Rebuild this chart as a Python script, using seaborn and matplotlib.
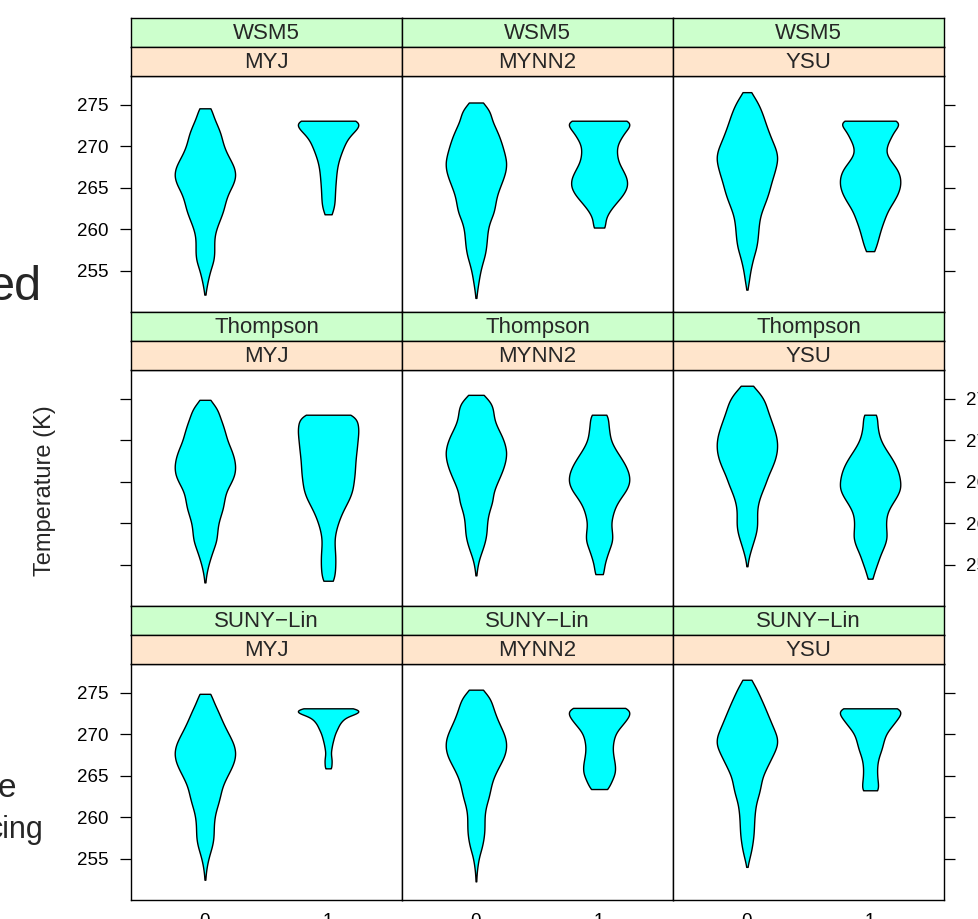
import numpy as np
import pandas as pd
import matplotlib
matplotlib.use("Agg")
import matplotlib.pyplot as plt
import seaborn as sns

MICROPHYSICS = ["WSM5", "Thompson", "SUNY\u2212Lin"]
PBL = ["MYJ", "MYNN2", "YSU"]
GROUPS = ["0", "1"]
YTICKS = [255, 260, 265, 270, 275]

# each violin: (warmest K, coldest K) and counts at evenly spaced levels from warm to cold
wsm5_myj_range = [(274.6, 252.1), (273.1, 261.8)]
wsm5_myj_0 = [18, 24, 35, 45, 50, 58, 71, 84, 88, 80, 66, 58, 53, 44, 34, 27, 26, 27, 25, 16, 10, 5, 1]
wsm5_myj_1 = [110, 85, 58, 47, 37, 29, 25, 23, 21, 20, 19, 11]

wsm5_mynn2_range = [(275.3, 251.7), (273.1, 260.2)]
wsm5_mynn2_0 = [20, 42, 45, 57, 68, 76, 83, 89, 87, 79, 69, 60, 56, 52, 40, 34, 32, 30, 26, 18, 12, 8, 4, 1]
wsm5_mynn2_1 = [111, 82, 66, 52, 52, 56, 70, 83, 85, 72, 50, 30, 17, 20]

wsm5_ysu_range = [(276.55, 252.7), (273.1, 257.35)]
wsm5_ysu_0 = [12, 29, 41, 50, 58, 67, 77, 88, 93, 88, 81, 73, 67, 59, 49, 40, 36, 34, 32, 28, 20, 14, 9, 6, 1]
wsm5_ysu_1 = [105, 73, 62, 49, 45, 62, 82, 90, 90, 82, 68, 52, 43, 34, 27, 21, 13]

thompson_myj_range = [(274.9, 252.85), (273.1, 253.05)]
thompson_myj_0 = [14, 35, 42, 51, 58, 64, 75, 83, 87, 85, 74, 60, 55, 52, 44, 37, 35, 33, 24, 16, 9, 4, 1]
thompson_myj_1 = [80, 86, 88, 85, 83, 80, 78, 77, 74, 71, 63, 50, 38, 29, 22, 18, 19, 21, 21, 20, 16]

thompson_mynn2_range = [(275.5, 253.7), (273.1, 253.85)]
thompson_mynn2_0 = [22, 47, 51, 53, 63, 76, 85, 90, 87, 80, 70, 59, 50, 49, 40, 34, 32, 31, 26, 18, 9, 4, 1]
thompson_mynn2_1 = [26, 26, 29, 32, 44, 60, 75, 85, 88, 78, 59, 45, 38, 33, 37, 39, 29, 21, 14, 13]

thompson_ysu_range = [(276.6, 254.8), (273.1, 253.3)]
thompson_ysu_0 = [17, 42, 56, 63, 72, 81, 89, 93, 92, 86, 76, 64, 56, 45, 36, 31, 31, 32, 28, 20, 12, 5, 1]
thompson_ysu_1 = [22, 21, 24, 30, 43, 60, 75, 85, 90, 92, 80, 63, 50, 47, 48, 51, 43, 31, 23, 14, 7]

sunylin_myj_range = [(274.9, 252.45), (273.15, 265.9)]
sunylin_myj_0 = [17, 25, 37, 47, 58, 71, 83, 88, 84, 73, 60, 49, 44, 38, 30, 26, 25, 25, 21, 13, 7, 3, 1]
sunylin_myj_1 = [91, 100, 55, 42, 33, 28, 22, 18, 15, 12, 10, 8, 9, 11, 10, 10]

sunylin_mynn2_range = [(275.4, 252.25), (273.2, 263.4)]
sunylin_mynn2_0 = [20, 42, 49, 57, 67, 79, 88, 89, 83, 70, 57, 47, 42, 37, 29, 25, 25, 25, 22, 17, 9, 5, 2, 1]
sunylin_mynn2_1 = [96, 85, 67, 46, 40, 37, 40, 45, 46, 35, 26]

sunylin_ysu_range = [(276.6, 254.0), (273.15, 263.25)]
sunylin_ysu_0 = [13, 27, 38, 49, 59, 69, 79, 90, 91, 80, 68, 56, 45, 41, 36, 28, 24, 22, 21, 20, 17, 13, 7, 1]
sunylin_ysu_1 = [105, 84, 67, 46, 39, 34, 24, 20, 20, 22, 27]

panels = [
    [(wsm5_myj_range, wsm5_myj_0, wsm5_myj_1),
     (wsm5_mynn2_range, wsm5_mynn2_0, wsm5_mynn2_1),
     (wsm5_ysu_range, wsm5_ysu_0, wsm5_ysu_1)],
    [(thompson_myj_range, thompson_myj_0, thompson_myj_1),
     (thompson_mynn2_range, thompson_mynn2_0, thompson_mynn2_1),
     (thompson_ysu_range, thompson_ysu_0, thompson_ysu_1)],
    [(sunylin_myj_range, sunylin_myj_0, sunylin_myj_1),
     (sunylin_mynn2_range, sunylin_mynn2_0, sunylin_mynn2_1),
     (sunylin_ysu_range, sunylin_ysu_0, sunylin_ysu_1)],
]

sns.set_style("white")
plt.rcParams["font.family"] = ["Liberation Sans", "DejaVu Sans"]

W, H = 979, 919
fig = plt.figure(figsize=(W / 100, H / 100), dpi=100)


def box(left, top, width, height):
    # pixel box (top-left origin) -> figure fraction rect
    return [left / W, 1 - (top + height) / H, width / W, height / H]


def draw_violin(ax, group, rng, counts):
    top, bottom = rng
    levels = np.linspace(top, bottom, len(counts))
    temps = np.repeat(levels, counts)
    step = (top - bottom) / (len(counts) - 1)
    bw = 0.7 * step / temps.std(ddof=1)
    df = pd.DataFrame({"group": group, "temp": temps})
    sns.violinplot(data=df, x="group", y="temp", order=GROUPS, ax=ax,
                   cut=0, bw_method=bw, inner=None, density_norm="width",
                   width=0.49, color="#00FFFF", saturation=1,
                   linecolor="black", linewidth=1.0, gridsize=200)


strip_h = 29
for r, micro in enumerate(MICROPHYSICS):
    ptop = 76 + 294 * r
    for c, pbl in enumerate(PBL):
        pleft = 131 + 271 * c
        ax = fig.add_axes(box(pleft, ptop, 271, 236))
        rng, c0, c1 = panels[r][c]
        draw_violin(ax, "0", rng[0], c0)
        draw_violin(ax, "1", rng[1], c1)
        ax.set_xlim(-0.6, 1.6)
        ax.set_ylim(250.0, 278.5)
        ax.set_xlabel("")
        ax.set_ylabel("")
        ax.set_yticks(YTICKS)
        ax.set_xticks([0, 1])
        ax.set_xticklabels(GROUPS)
        for s in ax.spines.values():
            s.set_color("black")
            s.set_linewidth(1.0)
        ax.tick_params(axis="y", direction="out", length=8, width=0.9,
                       labelsize=13.5, colors="black", pad=8)
        ax.tick_params(axis="y", left=False, right=False,
                       labelleft=False, labelright=False)
        if c == 0:
            ax.tick_params(axis="y", left=True, labelleft=(r != 1))
        if c == 2:
            ax.tick_params(axis="y", right=True, labelright=(r == 1))
        ax.tick_params(axis="x", length=0, labelsize=13.5, colors="black",
                       pad=9, bottom=False, top=False,
                       labelbottom=(r == 2))

        for k, (label, colr) in enumerate([(micro, "#CCFFCC"), (pbl, "#FFE5CC")]):
            sax = fig.add_axes(box(pleft, ptop - strip_h * (2 - k), 271, strip_h))
            sax.set_facecolor(colr)
            sax.set_xticks([])
            sax.set_yticks([])
            for s in sax.spines.values():
                s.set_color("black")
                s.set_linewidth(1.0)
            sax.text(0.5, 0.45, label, ha="center", va="center",
                     fontsize=16, transform=sax.transAxes)

fig.text(45 / W, 1 - 491 / H, "Temperature (K)", rotation=90,
         ha="center", va="center", fontsize=17)

# pieces of neighbouring text cut by the frame
fig.text(42 / W, 1 - 300 / H, "ed", ha="right", va="baseline", fontsize=35)
fig.text(16 / W, 1 - 797 / H, "e", ha="right", va="baseline", fontsize=24)
fig.text(44 / W, 1 - 838 / H, "cing", ha="right", va="baseline", fontsize=22)

fig.savefig("out.png", dpi=100)
